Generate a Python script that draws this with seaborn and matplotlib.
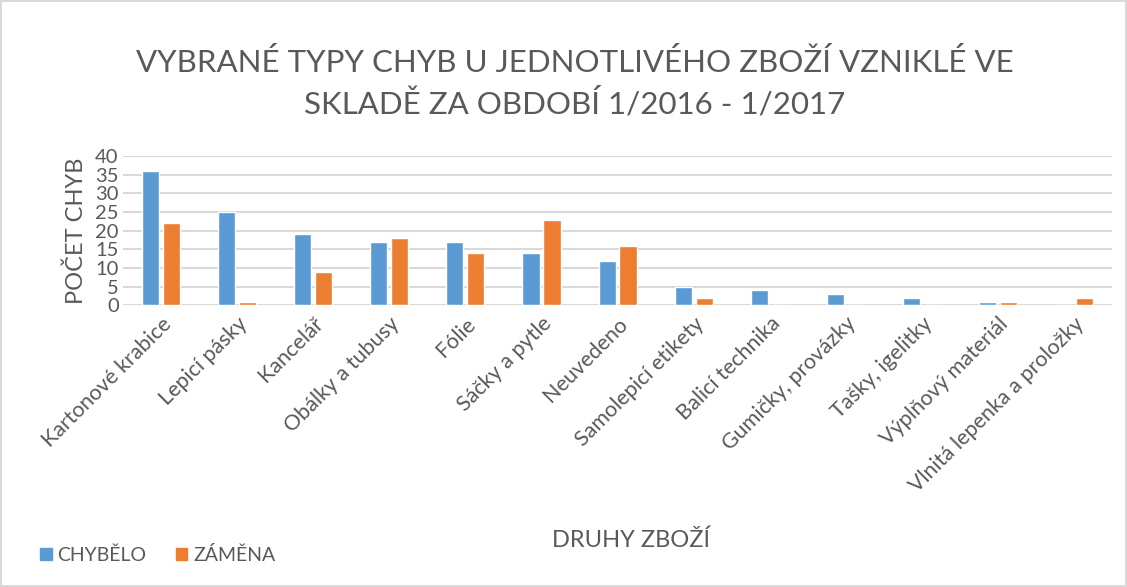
import pandas as pd
import matplotlib.pyplot as plt
import seaborn as sns
from matplotlib.patches import Patch

categories = ['Kartonové krabice', 'Lepicí pásky', 'Kancelář', 'Obálky a tubusy',
              'Fólie', 'Sáčky a pytle', 'Neuvedeno', 'Samolepicí etikety',
              'Balicí technika', 'Gumičky, provázky', 'Tašky, igelitky',
              'Výplňový materiál', 'Vlnitá lepenka a proložky']
chybelo = [36, 25, 19, 17, 17, 14, 12, 5, 4, 3, 2, 1, 0]
zamena = [22, 1, 9, 18, 14, 23, 16, 2, 0, 0, 0, 1, 2]
series = ['CHYBĚLO', 'ZÁMĚNA']
colors = ['#5B9BD5', '#ED7D31']

df = pd.DataFrame({'kat': categories * 2,
                   'serie': [series[0]] * len(categories) + [series[1]] * len(categories),
                   'pocet': chybelo + zamena})

sns.set_style("white")
plt.rcParams['font.family'] = ['Lato', 'DejaVu Sans']
txt = '#595959'

fig = plt.figure(figsize=(11.27, 5.87), dpi=100)
fig.patch.set_edgecolor('#d9d9d9')
fig.patch.set_linewidth(1.5)
ax = fig.add_axes([0.109, 0.480, 0.878, 0.254])

sns.barplot(data=df, x='kat', y='pocet', hue='serie', palette=colors,
            width=0.55, gap=0.18, ax=ax, legend=False, saturation=1)

ax.set_ylim(0, 40)
ax.set_yticks(range(0, 41, 5))
ax.set_xlim(-0.5, len(categories) - 0.5)
ax.yaxis.grid(True, color='#d9d9d9', linewidth=1.5)
ax.set_axisbelow(True)
for s in ax.spines.values():
    s.set_visible(False)
ax.tick_params(axis='y', labelsize=14.5, colors=txt, length=0, pad=3)
ax.tick_params(axis='x', labelsize=15.5, colors=txt, length=0, pad=6)
plt.setp(ax.get_xticklabels(), rotation=45, ha='right', rotation_mode='anchor')
ax.set_xlabel('')
ax.set_ylabel('POČET CHYB', fontsize=17, color=txt, labelpad=6)

fig.text(0.510, 0.858, 'VYBRANÉ TYPY CHYB U JEDNOTLIVÉHO ZBOŽÍ VZNIKLÉ VE\nSKLADĚ ZA OBDOBÍ 1/2016 - 1/2017',
         ha='center', va='center', fontsize=22.5, color=txt, linespacing=1.45)
fig.text(0.56, 0.08, 'DRUHY ZBOŽÍ', ha='center', va='center', fontsize=17, color=txt)

handles = [Patch(color=c, label=l) for c, l in zip(colors, series)]
fig.legend(handles=handles, loc='center left', bbox_to_anchor=(0.02, 0.055), ncol=2,
           frameon=False, fontsize=14, labelcolor=txt, handlelength=0.6, handleheight=0.6,
           handletextpad=0.3, columnspacing=1.5)

fig.savefig('out.png', dpi=100)
